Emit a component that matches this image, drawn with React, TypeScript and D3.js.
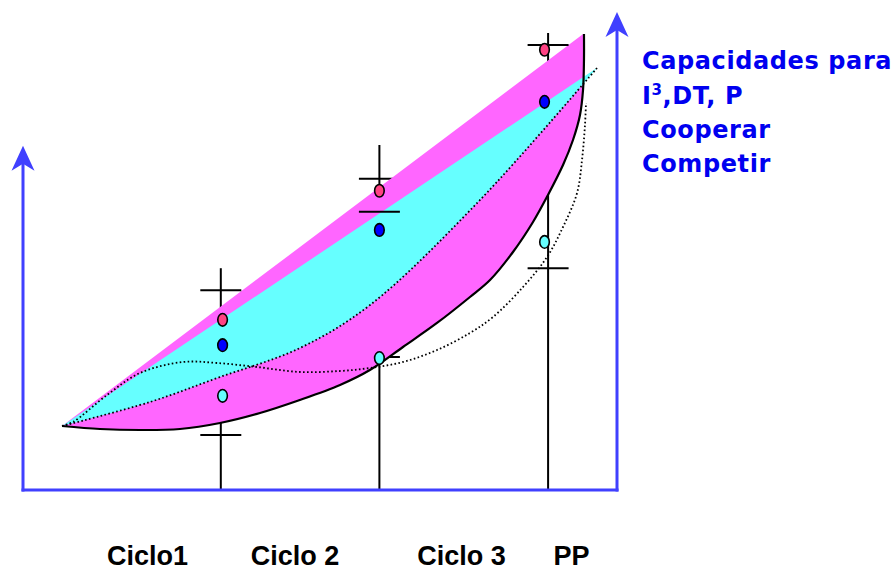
import React from "react";
import * as d3 from "d3";

// ---- data (arbitrary units: x 0..100 along the base axis, y 0..100 up the right axis)
const cycleLabels = ["Ciclo1", "Ciclo 2", "Ciclo 3", "PP"];
const labelX = [20.96, 45.79, 73.82, 92.34];
const cycleX = [33.3, 60.0, 88.4];
const stemTop = [46.4, 72.2, 95.6];
const dotX = [33.6, 60.0, 87.8];
const pinkY = [35.6, 62.6, 92.1];
const blueY = [30.3, 54.4, 81.2];
const cyanY = [19.7, 27.6, 51.9];
const crossesBelow: [number, number][] = [[1, 65.1], [1, 27.8]];
const crossesAbove: [number, number][] = [[0, 41.8], [0, 11.5], [1, 58.2], [2, 93.1], [2, 46.4]];
const startPt: [number, number] = [6.57, 13.39];
const magentaTopEnd: [number, number] = [94.3, 95.4];
const cyanTopEnd: [number, number] = [96.6, 88.3];
const lowerCurve: [number, number][] = [
  [6.57, 13.39], [12.96, 12.76], [19.7, 12.55], [26.43, 12.76], [33.16, 14.02],
  [39.9, 16.11], [46.6, 18.83], [53.37, 21.97], [58.4, 25.1], [63.97, 29.92],
  [69.7, 34.94], [75.25, 40.38], [78.62, 43.93], [82.49, 49.79], [85.86, 56.07],
  [88.38, 61.72], [90.91, 67.99], [92.59, 73.22], [93.77, 78.45], [94.28, 83.68],
  [94.44, 89.96], [94.44, 95.4],
];
const cyanLower: [number, number][] = [
  [6.57, 13.39], [21.38, 18.41], [33.16, 23.64], [46.63, 29.71], [58.42, 38.7],
  [76.94, 60.67], [96.63, 88.28],
];
const wave: [number, number][] = [
  [6.57, 13.39], [8.42, 14.23], [14.14, 19.87], [19.7, 24.48], [26.94, 26.78],
  [32.66, 26.57], [39.39, 25.73], [46.63, 24.69], [53.37, 24.9], [58.42, 25.52],
  [63.97, 26.78], [69.7, 29.29], [75.25, 32.85], [79.12, 36.19], [84.18, 42.47],
  [88.22, 48.74], [90.91, 55.02], [93.27, 62.13], [94.11, 69.04], [94.61, 76.36],
  [94.78, 80.96],
];
const leftAxisTop = 72;
const rightAxisTop = 100;

const W = 896;
const H = 572;
const AXIS = "#4040ff";
const MAGENTA = "#ff66ff";
const CYAN = "#66ffff";
const PINK = "#ff4283";
const BLUE = "#0000ff";
const TEXT_BLUE = "#0000f0";

export default function App() {
  const x = d3.scaleLinear().domain([0, 100]).range([23, 617]);
  const y = d3.scaleLinear().domain([0, 100]).range([490, 12]);

  const smooth = d3
    .line<[number, number]>()
    .x((d) => x(d[0]))
    .y((d) => y(d[1]))
    .curve(d3.curveCatmullRom.alpha(0.5));

  const lowerRev = lowerCurve.slice().reverse();
  const magentaPath =
    `M${x(startPt[0])},${y(startPt[1])}L${x(magentaTopEnd[0])},${y(magentaTopEnd[1])}` +
    (smooth(lowerRev) || "").replace(/^M/, "L") +
    "Z";
  const cyanRev = cyanLower.slice().reverse();
  const cyanPath =
    `M${x(startPt[0])},${y(startPt[1])}L${x(cyanTopEnd[0])},${y(cyanTopEnd[1])}` +
    (smooth(cyanRev) || "").replace(/^M/, "L") +
    "Z";

  const halfCross = 3.45;
  const cross = (c: [number, number], i: number, key: string) => (
    <line
      key={key + i}
      x1={x(cycleX[c[0]] - halfCross)}
      x2={x(cycleX[c[0]] + halfCross)}
      y1={y(c[1])}
      y2={y(c[1])}
      stroke="#000"
      strokeWidth={2}
    />
  );

  const arrow = (tx: number, ty: number) => (
    <path
      d={`M${tx},${ty}L${tx - 11.5},${ty + 25}L${tx},${ty + 18}L${tx + 11.5},${ty + 25}Z`}
      fill={AXIS}
    />
  );

  const dot = (cx: number, cy: number, fill: string, key: string) => (
    <ellipse key={key} cx={x(cx)} cy={y(cy)} rx={4.8} ry={6.3} fill={fill} stroke="#000" strokeWidth={1.6} />
  );

  return (
    <svg
      width={W}
      height={H}
      style={{ position: "absolute", left: 0, top: 0, background: "#fff" }}
    >
      {/* stems */}
      {cycleX.map((cx, i) => (
        <line key={"s" + i} x1={x(cx)} x2={x(cx)} y1={y(stemTop[i])} y2={y(0)} stroke="#000" strokeWidth={2} />
      ))}
      {crossesBelow.map((c, i) => cross(c, i, "cb"))}

      {/* bands */}
      <path d={magentaPath} fill={MAGENTA} />
      <path d={cyanPath} fill={CYAN} />
      <path d={smooth(lowerCurve) || ""} fill="none" stroke="#000" strokeWidth={2.2} />
      <path d={smooth(cyanLower) || ""} fill="none" stroke="#000" strokeWidth={1.8} strokeDasharray="1.6 2.4" />
      <path d={smooth(wave) || ""} fill="none" stroke="#000" strokeWidth={1.8} strokeDasharray="1.6 2.4" />

      {crossesAbove.map((c, i) => cross(c, i, "ca"))}

      {/* dots */}
      {dotX.map((dx, i) => (
        <g key={"d" + i}>
          {dot(dx, pinkY[i], PINK, "p" + i)}
          {dot(dx, blueY[i], BLUE, "b" + i)}
          {dot(dx, cyanY[i], CYAN, "c" + i)}
        </g>
      ))}

      {/* axes */}
      <line x1={x(0)} x2={x(0)} y1={y(0) + 1.5} y2={y(leftAxisTop) + 10} stroke={AXIS} strokeWidth={3} />
      {arrow(x(0), y(leftAxisTop))}
      <line x1={x(100)} x2={x(100)} y1={y(0) + 1.5} y2={y(rightAxisTop) + 10} stroke={AXIS} strokeWidth={3} />
      {arrow(x(100), y(rightAxisTop))}
      <line x1={x(0) - 1.5} x2={x(100) + 1.5} y1={y(0)} y2={y(0)} stroke={AXIS} strokeWidth={3} />

      {/* cycle labels */}
      {cycleLabels.map((t, i) => (
        <text
          key={"l" + i}
          x={x(labelX[i])}
          y={y(0) + 75}
          textAnchor="middle"
          fontFamily="'Liberation Sans', Arial, sans-serif"
          fontWeight="bold"
          fontSize={27}
          fill="#000"
        >
          {t}
        </text>
      ))}

      {/* side caption */}
      <g fontFamily="'DejaVu Sans', Verdana, sans-serif" fontWeight="bold" fontSize={24} fill={TEXT_BLUE} letterSpacing={0.6}>
        <text x={642} y={69}>Capacidades para</text>
        <text x={642} y={104}>
          <tspan>I</tspan>
          <tspan dy={-9} fontSize={15}>3</tspan>
          <tspan dy={9}>,DT, P</tspan>
        </text>
        <text x={642} y={138}>Cooperar</text>
        <text x={642} y={172}>Competir</text>
      </g>
    </svg>
  );
}
